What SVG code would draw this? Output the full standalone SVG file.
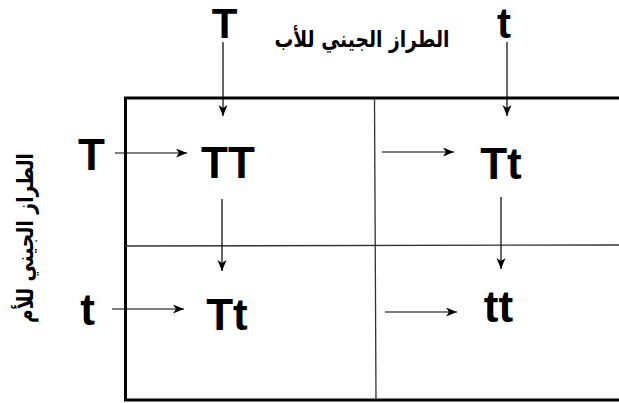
<svg xmlns="http://www.w3.org/2000/svg" width="619" height="403" viewBox="0 0 619 403">
<style>
.al{font-family:"Liberation Sans",Arial,sans-serif;font-weight:bold;font-size:44px;fill:#000;text-anchor:middle}
.top{font-size:42px}
.ar{font-family:"DejaVu Sans","Noto Sans",sans-serif;font-size:23px;font-weight:bold;fill:#000;text-anchor:middle}
.arr{stroke:#000;stroke-width:1.2;fill:none;marker-end:url(#ah)}
.grid{stroke:#333;stroke-width:1.3;fill:none}
</style>
<defs>
<marker id="ah" markerUnits="userSpaceOnUse" markerWidth="12" markerHeight="10" refX="11" refY="4.5" orient="auto">
<path d="M0,0 L11,4.5 L0,9 L3,4.5 z" fill="#000"/>
</marker>
</defs>
<rect width="619" height="403" fill="#fff"/>
<g id="square">
<rect x="125.5" y="98" width="500" height="302" fill="none" stroke="#000" stroke-width="3"/>
<line class="grid" x1="374.5" y1="98" x2="376" y2="400"/>
<line class="grid" x1="125" y1="246" x2="619" y2="245"/>
</g>
<g id="father-label"><text class="ar" x="362" y="47" textLength="175" lengthAdjust="spacingAndGlyphs">الطراز الجيني للأب</text></g>
<g id="mother-label"><text class="ar" transform="translate(33,238) rotate(-90)" x="0" y="0" textLength="170" lengthAdjust="spacingAndGlyphs">الطراز الجيني للأم</text></g>
<g id="father-T"><text class="al top" x="224.5" y="38">T</text></g>
<g id="father-t"><text class="al top" x="504" y="38">t</text></g>
<g id="mother-T"><text class="al" x="91.5" y="170">T</text></g>
<g id="mother-t"><text class="al" x="87.5" y="325">t</text></g>
<g id="cell-TT"><text class="al" x="228" y="178">TT</text></g>
<g id="cell-Tt-1"><text class="al" x="501" y="179">Tt</text></g>
<g id="cell-Tt-2"><text class="al" x="227" y="330">Tt</text></g>
<g id="cell-tt"><text class="al" x="498.5" y="322">tt</text></g>
<g id="connectors">
<line class="arr" x1="223" y1="42" x2="223" y2="116"/>
<line class="arr" x1="507" y1="42" x2="507" y2="116"/>
<line class="arr" x1="115" y1="153" x2="187" y2="153"/>
<line class="arr" x1="222" y1="199" x2="222" y2="271"/>
<line class="arr" x1="382" y1="152" x2="454" y2="152"/>
<line class="arr" x1="501" y1="197" x2="501" y2="269"/>
<line class="arr" x1="112" y1="309" x2="184" y2="309"/>
<line class="arr" x1="385" y1="312" x2="457" y2="312"/>
</g>
</svg>
